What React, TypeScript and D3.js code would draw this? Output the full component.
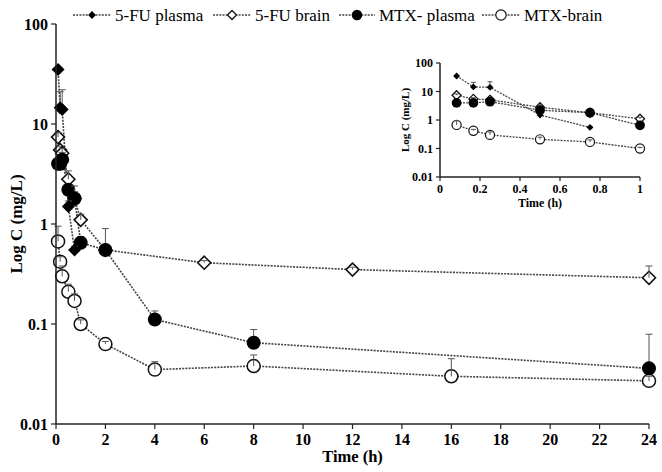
import React from "react";
import * as d3 from "d3";

// ---- Data ----
const fuPlasmaT = [0.083, 0.167, 0.25, 0.5, 0.75];
const fuPlasmaC = [35, 14.5, 14, 1.5, 0.55];
const fuPlasmaSD = [0, 6.5, 8, 0.2, 0.05];

const fuBrainT = [0.083, 0.167, 0.25, 0.5, 0.75, 1, 2, 6, 12, 24];
const fuBrainC = [7.4, 5.5, 5.1, 2.8, 1.8, 1.1, 0.55, 0.41, 0.35, 0.29];
const fuBrainSD = [0.8, 0.5, 0.6, 0.6, 0.3, 0.15, 0.05, 0.02, 0.02, 0.09];

const mtxPlasmaT = [0.083, 0.167, 0.25, 0.5, 0.75, 1, 2, 4, 8, 24];
const mtxPlasmaC = [4, 4, 4.4, 2.2, 1.8, 0.65, 0.55, 0.111, 0.065, 0.036];
const mtxPlasmaSD = [0.4, 0.4, 0.8, 0.3, 0.6, 0.1, 0.35, 0.024, 0.023, 0.043];

const mtxBrainT = [0.083, 0.167, 0.25, 0.5, 0.75, 1, 2, 4, 8, 16, 24];
const mtxBrainC = [0.67, 0.42, 0.3, 0.21, 0.17, 0.1, 0.063, 0.035, 0.038, 0.03, 0.027];
const mtxBrainSD = [0.28, 0.05, 0.08, 0.04, 0.03, 0.01, 0.004, 0.007, 0.011, 0.015, 0.003];

const legendLabels = ["5-FU plasma", "5-FU brain", "MTX- plasma", "MTX-brain"];
const yTicks = [0.01, 0.1, 1, 10, 100];
const yTickLabels = ["0.01", "0.1", "1", "10", "100"];
const xTicksMain = [0, 2, 4, 6, 8, 10, 12, 14, 16, 18, 20, 22, 24];
const xTicksInset = [0, 0.2, 0.4, 0.6, 0.8, 1];
const insetMaxT = 1;

type Series = { t: number[]; c: number[]; sd: number[]; kind: string };
const series: Series[] = [
  { t: mtxBrainT, c: mtxBrainC, sd: mtxBrainSD, kind: "openCircle" },
  { t: fuBrainT, c: fuBrainC, sd: fuBrainSD, kind: "openDiamond" },
  { t: mtxPlasmaT, c: mtxPlasmaC, sd: mtxPlasmaSD, kind: "filledCircle" },
  { t: fuPlasmaT, c: fuPlasmaC, sd: fuPlasmaSD, kind: "filledDiamond" },
];

const FONT = "'Liberation Serif', 'Times New Roman', serif";
const LINE = "#444";
const DASH = "2,1.2";

function Marker({ kind, x, y, s }: { kind: string; x: number; y: number; s: number }) {
  if (kind === "openCircle")
    return <circle cx={x} cy={y} r={6.5 * s} fill="white" stroke="#111" strokeWidth={1.5 * Math.max(s, 0.8)} />;
  if (kind === "filledCircle") return <circle cx={x} cy={y} r={7 * s} fill="#000" />;
  if (kind === "openDiamond") {
    const r = 6.5 * s;
    return (
      <path
        d={`M${x},${y - r}L${x + r},${y}L${x},${y + r}L${x - r},${y}Z`}
        fill="white"
        stroke="#111"
        strokeWidth={1.6 * Math.max(s, 0.8)}
      />
    );
  }
  const r = 6.5 * s;
  return <path d={`M${x},${y - r}L${x + r},${y}L${x},${y + r}L${x - r},${y}Z`} fill="#000" />;
}

function Panel({
  x0, x1, y0, y1, tmax, xTicks, s, insetMode,
}: {
  x0: number; x1: number; y0: number; y1: number; tmax: number; xTicks: number[]; s: number; insetMode: boolean;
}) {
  const x = d3.scaleLinear().domain([0, tmax]).range([x0, x1]);
  const y = d3.scaleLog().domain([0.01, 100]).range([y1, y0]);
  const line = d3.line<[number, number]>().x((d) => x(d[0])).y((d) => y(d[1]));
  const fs = insetMode ? 12 : 16;
  const tickLen = insetMode ? 4 : 5;
  return (
    <g>
      {series.map((sr, i) => {
        const pts: [number, number][] = sr.t
          .map((t, j) => [t, sr.c[j]] as [number, number])
          .filter((d) => d[0] <= tmax);
        return (
          <path key={"l" + i} d={line(pts) || ""} fill="none" stroke={LINE} strokeWidth={insetMode ? 1.3 : 1.6} strokeDasharray={DASH} />
        );
      })}
      {series.map((sr, i) =>
        sr.t.map((t, j) => {
          if (t > tmax) return null;
          const cx = x(t);
          const cy = y(sr.c[j]);
          const top = y(sr.c[j] + sr.sd[j]);
          const cap = insetMode ? 2.5 : 3.5;
          const err =
            sr.sd[j] > 0 ? (
              <g stroke="#555" strokeWidth={1}>
                <line x1={cx} x2={cx} y1={cy} y2={top} />
                <line x1={cx - cap} x2={cx + cap} y1={top} y2={top} />
              </g>
            ) : null;
          const open = sr.kind.startsWith("open");
          const ms = insetMode && sr.kind === "filledDiamond" ? s * 0.75 : s;
          return (
            <g key={"m" + i + "-" + j}>
              {!open && err}
              <Marker kind={sr.kind} x={cx} y={cy} s={ms} />
              {open && err}
            </g>
          );
        })
      )}
      {/* axes */}
      <line x1={x0} x2={x0} y1={y0} y2={y1} stroke="#222" strokeWidth={1.5} />
      <line x1={x0} x2={x1} y1={y1} y2={y1} stroke="#222" strokeWidth={1.5} />
      {yTicks.map((v, i) => (
        <g key={"yt" + i}>
          <line x1={x0 - tickLen} x2={x0} y1={y(v)} y2={y(v)} stroke="#222" strokeWidth={1.2} />
          <text x={x0 - (insetMode ? 7 : 8)} y={y(v)} dy="0.35em" textAnchor="end" fontFamily={FONT} fontWeight="bold" fontSize={fs}>
            {yTickLabels[i]}
          </text>
        </g>
      ))}
      {xTicks.map((v, i) => (
        <g key={"xt" + i}>
          <line x1={x(v)} x2={x(v)} y1={y1} y2={y1 + tickLen} stroke="#222" strokeWidth={1.2} />
          <text x={x(v)} y={y1 + (insetMode ? 16 : 21)} textAnchor="middle" fontFamily={FONT} fontWeight="bold" fontSize={fs}>
            {String(v)}
          </text>
        </g>
      ))}
      <text
        x={(x0 + x1) / 2}
        y={y1 + (insetMode ? 30 : 38)}
        textAnchor="middle"
        fontFamily={FONT}
        fontWeight="bold"
        fontSize={insetMode ? 12 : 16.5}
      >
        Time (h)
      </text>
      <text
        transform={`translate(${insetMode ? x0 - 31 : 22},${(y0 + y1) / 2}) rotate(-90)`}
        textAnchor="middle"
        fontFamily={FONT}
        fontWeight="bold"
        fontSize={insetMode ? 11 : 17}
      >
        Log C (mg/L)
      </text>
    </g>
  );
}

function Legend() {
  const items = [
    { kind: "filledDiamond", x1: 73, x2: 111, label: legendLabels[0], s: 0.6 },
    { kind: "openDiamond", x1: 213, x2: 251, label: legendLabels[1], s: 0.7 },
    { kind: "filledCircle", x1: 339, x2: 375, label: legendLabels[2], s: 0.75 },
    { kind: "openCircle", x1: 482, x2: 520, label: legendLabels[3], s: 0.8 },
  ];
  const ly = 15;
  return (
    <g>
      {items.map((it, i) => (
        <g key={i}>
          <line x1={it.x1} x2={it.x2} y1={ly} y2={ly} stroke={LINE} strokeWidth={1.5} strokeDasharray={DASH} />
          <Marker kind={it.kind} x={(it.x1 + it.x2) / 2} y={ly} s={it.s} />
          <text x={it.x2 + 4} y={ly} dy="0.35em" fontFamily={FONT} fontSize={17}>
            {it.label}
          </text>
        </g>
      ))}
    </g>
  );
}

export default function App() {
  return (
    <svg width={662} height={472} style={{ position: "absolute", left: 0, top: 0, background: "white" }}>
      <rect width={662} height={472} fill="white" />
      <Legend />
      <Panel x0={56} x1={649} y0={24} y1={424} tmax={24} xTicks={xTicksMain} s={1} insetMode={false} />
      <Panel x0={440} x1={640} y0={63} y1={177} tmax={insetMaxT} xTicks={xTicksInset} s={0.7} insetMode={true} />
    </svg>
  );
}
